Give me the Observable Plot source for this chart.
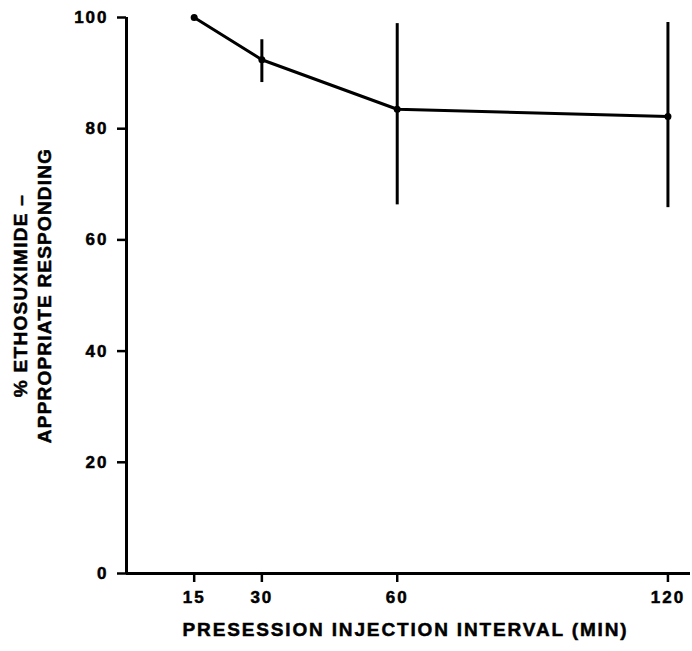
<!DOCTYPE html>
<html>
<head>
<meta charset="utf-8">
<script src="https://cdn.jsdelivr.net/npm/d3@7"></script>
<script src="https://cdn.jsdelivr.net/npm/@observablehq/plot@0.6"></script>
<style>
  html, body { margin: 0; padding: 0; background: white; }
</style>
</head>
<body>
<div id="chart"></div>
<script>
const intervals = [15, 30, 60, 120];
const meanPct = [100, 92.4, 83.5, 82.2];
const errLow = [null, 88.3, 66.3, 65.8];
const errHigh = [null, 96.0, 98.9, 99.1];
const xTicks = [15, 30, 60, 120];
const yTicks = [0, 20, 40, 60, 80, 100];
const xLabel = "PRESESSION INJECTION INTERVAL (MIN)";
const yLabel1 = "% ETHOSUXIMIDE –";
const yLabel2 = "APPROPRIATE RESPONDING";

const data = intervals.map((x, i) => ({x, y: meanPct[i], lo: errLow[i], hi: errHigh[i]}));
const errs = data.filter(d => d.lo != null);

const chart = Plot.plot({
  width: 692,
  height: 651,
  marginLeft: 126,
  marginRight: 2,
  marginTop: 17,
  marginBottom: 78,
  x: {domain: [0, 125], label: null},
  y: {domain: [0, 100], label: null},
  style: {fontFamily: "'Liberation Sans', Arial, sans-serif", fontSize: "17px", fontWeight: "bold", color: "black", background: "white"},
  marks: [
    Plot.axisX({ticks: xTicks, tickSize: 9, strokeWidth: 2.5, tickPadding: 8, fontSize: 17, fontWeight: "bold", label: null}),
    Plot.axisY({ticks: yTicks, tickSize: 9, strokeWidth: 2.5, tickPadding: 9, fontSize: 17, fontWeight: "bold", label: null}),
    Plot.ruleY([0], {strokeWidth: 3}),
    Plot.ruleX([0], {y1: 0, y2: 100, strokeWidth: 3}),
    Plot.ruleX(errs, {x: "x", y1: "lo", y2: "hi", strokeWidth: 3}),
    Plot.line(data, {x: "x", y: "y", strokeWidth: 3}),
    Plot.dot(data, {x: "x", y: "y", r: 3.5, fill: "black"}),
    Plot.text([xLabel], {frameAnchor: "bottom", dx: -3, dy: 62, fontSize: 19, fontWeight: "bold", text: d => d}),
    Plot.text([yLabel1], {frameAnchor: "left", textAnchor: "middle", dx: -106, dy: 0, rotate: -90, fontSize: 19, fontWeight: "bold", text: d => d}),
    Plot.text([yLabel2], {frameAnchor: "left", textAnchor: "middle", dx: -82, dy: 0, rotate: -90, fontSize: 19, fontWeight: "bold", text: d => d})
  ]
});
document.getElementById("chart").appendChild(chart);

// letter spacing and slight stroke to mimic the heavy, wide typeface of the original print
const svg = d3.select(chart);
svg.selectAll('g[aria-label="x-axis tick label"], g[aria-label="y-axis tick label"]')
  .attr("letter-spacing", "2px").attr("stroke", "black").attr("stroke-width", 0.5);
const textGroups = svg.selectAll('g[aria-label="text"]').nodes();
d3.selectAll(textGroups).attr("stroke", "black").attr("stroke-width", 0.5);
d3.select(textGroups[0]).attr("letter-spacing", "1.85px");
d3.select(textGroups[1]).attr("letter-spacing", "1.3px");
d3.select(textGroups[2]).attr("letter-spacing", "1.2px");
</script>
</body>
</html>
